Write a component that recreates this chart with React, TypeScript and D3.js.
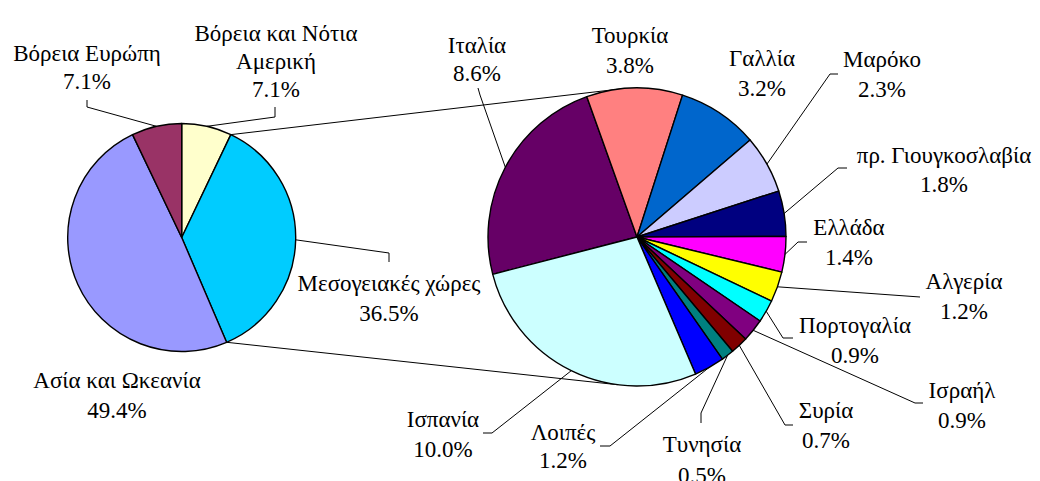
import React from "react";
import * as d3 from "d3";

// first pie: regions
const regions = ["Βόρεια και Νότια Αμερική", "Μεσογειακές χώρες", "Ασία και Ωκεανία", "Βόρεια Ευρώπη"];
const regionValues = [7.1, 36.5, 49.4, 7.1];
const regionColors = ["#FFFFCC", "#00CCFF", "#9999FF", "#993366"];

// second pie: breakdown of the mediterranean countries
const countries = [
    "Ιταλία", "Τουρκία", "Γαλλία", "Μαρόκο", "πρ. Γιουγκοσλαβία", "Ελλάδα", "Αλγερία",
    "Πορτογαλία", "Ισραήλ", "Συρία", "Τυνησία", "Λοιπές", "Ισπανία",
];
const countryValues = [8.6, 3.8, 3.2, 2.3, 1.8, 1.4, 1.2, 0.9, 0.9, 0.7, 0.5, 1.2, 10.0];
const countryColors = [
    "#660066", "#FF8080", "#0066CC", "#CCCCFF", "#000080", "#FF00FF", "#FFFF00",
    "#00FFFF", "#800080", "#800000", "#008080", "#0000FF", "#CCFFFF",
];

// label layout: text lines, centre x, first baseline, leader points (from label back to pie)
const regionLabels = [
    { lines: ["Βόρεια και Νότια", "Αμερική"], x: 276, y: 41, gap: 28, leader: [[275, 107], [275, 117]] },
    { lines: ["Μεσογειακές χώρες"], x: 389, y: 291, gap: 30, leader: [[389, 262], [389, 253]] },
    { lines: ["Ασία και Ωκεανία"], x: 117, y: 388, gap: 30, leader: [] },
    { lines: ["Βόρεια Ευρώπη"], x: 87, y: 61, gap: 28, leader: [[87, 100], [87, 107]] },
];
const countryLabels = [
    { lines: ["Ιταλία"], x: 477, y: 53, gap: 28, leader: [[478, 88], [480, 95]] },
    { lines: ["Τουρκία"], x: 630, y: 43, gap: 30, leader: [] },
    { lines: ["Γαλλία"], x: 762, y: 66, gap: 30, leader: [] },
    { lines: ["Μαρόκο"], x: 882, y: 67, gap: 30, leader: [[838, 74], [830, 74]] },
    { lines: ["πρ. Γιουγκοσλαβία"], x: 944, y: 163, gap: 29, leader: [[847, 168], [838, 168]] },
    { lines: ["Ελλάδα"], x: 849, y: 235, gap: 30, leader: [[807, 242], [798, 242]] },
    { lines: ["Αλγερία"], x: 964, y: 289, gap: 30, leader: [[920, 297]] },
    { lines: ["Πορτογαλία"], x: 855, y: 333, gap: 30, leader: [[793, 338], [783, 338]] },
    { lines: ["Ισραήλ"], x: 962, y: 398, gap: 30, leader: [[923, 403], [915, 403]] },
    { lines: ["Συρία"], x: 826, y: 418, gap: 30, leader: [[793, 425], [785, 425]] },
    { lines: ["Τυνησία"], x: 702, y: 452, gap: 31, leader: [[701, 423], [701, 413]] },
    { lines: ["Λοιπές"], x: 563, y: 440, gap: 28, leader: [[600, 446], [610, 446]] },
    { lines: ["Ισπανία"], x: 443, y: 427, gap: 30, leader: [[483, 433], [492, 433]] },
];

const W = 1040;
const H = 481;
const font = "Liberation Serif, Tinos, Times New Roman, DejaVu Serif, Noto Serif, serif";

const rad = (deg: number) => (deg * Math.PI) / 180;
const onCircle = (cx: number, cy: number, r: number, a: number): [number, number] => [
    cx + r * Math.sin(a),
    cy - r * Math.cos(a),
];

const PieOfPie = () => {
    const left = { cx: 181.7, cy: 237.5, r: 114 };
    const right = { cx: 637, cy: 237, r: 149 };

    const leftArcs = d3.pie<number>().sort(null)(regionValues);
    const rightStart = rad(255.5);
    const rightArcs = d3
        .pie<number>()
        .sort(null)
        .startAngle(rightStart)
        .endAngle(rightStart + 2 * Math.PI)(countryValues);

    const leftArc = d3.arc<d3.PieArcDatum<number>>().innerRadius(0).outerRadius(left.r);
    const rightArc = d3.arc<d3.PieArcDatum<number>>().innerRadius(0).outerRadius(right.r);

    const line = d3.line();

    // connector lines from the split slice to the second pie
    const med = leftArcs[1];
    const topFrom = onCircle(left.cx, left.cy, left.r, med.startAngle);
    const botFrom = onCircle(left.cx, left.cy, left.r, med.endAngle);
    const topTo = onCircle(right.cx, right.cy, right.r, rad(-6.5));
    const botTo = onCircle(right.cx, right.cy, right.r, rad(187.5));

    const renderLabels = (
        arcs: d3.PieArcDatum<number>[],
        labels: typeof regionLabels,
        c: { cx: number; cy: number; r: number }
    ) =>
        arcs.map((a, i) => {
            const lab = labels[i];
            const mid = (a.startAngle + a.endAngle) / 2;
            const edge = onCircle(c.cx, c.cy, c.r, mid);
            const pts: [number, number][] = [edge, ...(lab.leader.slice().reverse() as [number, number][])];
            const lines = [...lab.lines, `${a.data.toFixed(1)}%`];
            return (
                <g key={i}>
                    {lab.leader.length > 0 && (
                        <path d={line(pts) || ""} fill="none" stroke="#000" strokeWidth={1} />
                    )}
                    <text
                        textAnchor="middle"
                        style={{ fontFamily: font, fontSize: 23 }}
                        fill="#000"
                    >
                        {lines.map((t, j) => (
                            <tspan key={j} x={lab.x} y={lab.y + j * lab.gap}>
                                {t}
                            </tspan>
                        ))}
                    </text>
                </g>
            );
        });

    return (
        <svg
            width={W}
            height={H}
            style={{ position: "absolute", left: 0, top: 0, background: "#fff" }}
        >
            <path d={line([topFrom, topTo]) || ""} stroke="#000" strokeWidth={1} fill="none" />
            <path d={line([botFrom, botTo]) || ""} stroke="#000" strokeWidth={1} fill="none" />

            <g transform={`translate(${left.cx},${left.cy})`}>
                {leftArcs.map((a, i) => (
                    <path
                        key={i}
                        d={leftArc(a) || ""}
                        fill={regionColors[i]}
                        stroke="#000"
                        strokeWidth={1.4}
                        strokeLinejoin="round"
                    >
                        <title>{regions[i]}</title>
                    </path>
                ))}
            </g>
            <g transform={`translate(${right.cx},${right.cy})`}>
                {rightArcs.map((a, i) => (
                    <path
                        key={i}
                        d={rightArc(a) || ""}
                        fill={countryColors[i]}
                        stroke="#000"
                        strokeWidth={1.4}
                        strokeLinejoin="round"
                    >
                        <title>{countries[i]}</title>
                    </path>
                ))}
            </g>

            {renderLabels(leftArcs, regionLabels, left)}
            {renderLabels(rightArcs, countryLabels, right)}
        </svg>
    );
};

export default function App() {
    return <PieOfPie />;
}
